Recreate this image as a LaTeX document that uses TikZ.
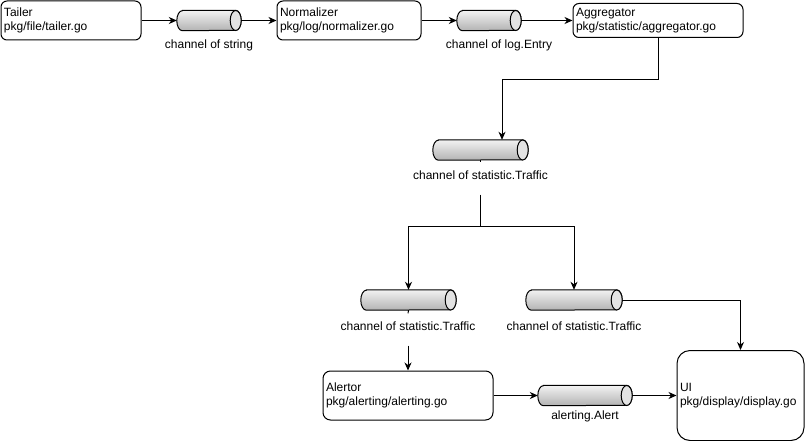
\documentclass[tikz,border=0pt]{standalone}
\usepackage{fontspec}
\setmainfont{Liberation Sans}
\usetikzlibrary{arrows.meta}

\tikzset{
	box/.style={draw, rounded corners=#1, line width=1pt, align=left, inner xsep=3pt, inner ysep=0pt, font=\fontsize{12}{14}\selectfont},
	box/.default=6pt,
	chan/.style={rectangle, inner sep=0pt, minimum height=20pt},
	chanbody/.style={draw, line width=1pt, top color=gray!10, bottom color=gray!60},
	chanend/.style={draw, line width=1pt, fill=gray!22},
	lab/.style={anchor=base, inner sep=0pt, text height=17pt, text depth=15pt, font=\fontsize{12}{14}\selectfont},
	arr/.style={-{Stealth[length=8pt,width=7pt,inset=2.5pt]}, line width=1pt},
	wire/.style={line width=1pt}
}

\begin{document}
\begin{tikzpicture}[x=1pt, y=-1pt]
			\useasboundingbox (0,0) rectangle (805,441);
			
			\node[box, text width=134pt, minimum height=39pt] (tailer) at (71,20.5) {Tailer\\pkg/file/tailer.go};
			\node[box, text width=138pt, minimum height=39pt] (norm) at (349,20.5) {Normalizer\\pkg/log/normalizer.go};
			\node[box, text width=164pt, minimum height=34pt] (agg) at (658,20.5) {Aggregator\\pkg/statistic/aggregator.go};
			\node[box=7.5pt, text width=164pt, minimum height=49pt] (alertor) at (408,395.5) {Alertor\\pkg/alerting/alerting.go};
			\node[box=13pt, text width=121pt, minimum height=90pt] (ui) at (740.5,395.5) {UI\\pkg/display/display.go};
			
			\node[chan, minimum width=64pt] (chan1) at (209,20.5) {};
			\node[chan, minimum width=64pt] (chan2) at (489,20.5) {};
			\node[chan, minimum width=95pt] (chan3) at (480.5,150) {};
			\node[chan, minimum width=95pt] (chan4) at (408.5,300) {};
			\node[chan, minimum width=96pt] (chan5) at (574,300) {};
			\node[chan, minimum width=94pt] (chan6) at (585,395.5) {};
			
			\foreach \c in {chan1,chan2,chan3,chan4,chan5,chan6} {
				\path[chanbody] ([xshift=5.5pt]\c.north west) -- ([xshift=-5.5pt]\c.north east)
					arc[start angle=90, end angle=-90, x radius=5.5pt, y radius=10pt]
					-- ([xshift=5.5pt]\c.south west)
					arc[start angle=270, end angle=90, x radius=5.5pt, y radius=10pt] -- cycle;
				\path[chanend] ([xshift=-5.5pt]\c.east) ellipse [x radius=5.5pt, y radius=10pt];
			}
			
			\node[lab] (lab1) at (209,49) {channel of string};
			\node[lab] (lab2) at (499,49) {channel of log.Entry};
			\node[lab] (lab3) at (480.5,179.5) {channel of statistic.Traffic};
			\node[lab] (lab4) at (408,330.5) {channel of statistic.Traffic};
			\node[lab] (lab5) at (574,330.5) {channel of statistic.Traffic};
			\node[lab] (lab6) at (585,419) {alerting.Alert};
			
			\coordinate (bend) at (502,80);
			\coordinate (split) at (480.5,226);
			
			\draw[arr] (tailer.east) -- (chan1.west);
			\draw[arr] (chan1.east) -- (norm.west);
			\draw[arr] (norm.east) -- (chan2.west);
			\draw[arr] (chan2.east) -- (agg.west);
			\draw[arr] (agg.south) |- (bend) -- (bend |- chan3.north);
			\draw[wire] (chan3.south) -- (lab3.north);
			\draw[wire] (lab3.south) -- (split);
			\draw[arr] (split) -| (chan4.north);
			\draw[arr] (split) -| (chan5.north);
			\draw[wire] (chan4.south) -- (lab4.north);
			\draw[arr] (lab4.south) -- (alertor.north);
			\draw[arr] (chan5.east) -| (ui.north);
			\draw[arr] (alertor.east) -- (chan6.west);
			\draw[arr] (chan6.east) -- (ui.west);
		\end{tikzpicture}
\end{document}
